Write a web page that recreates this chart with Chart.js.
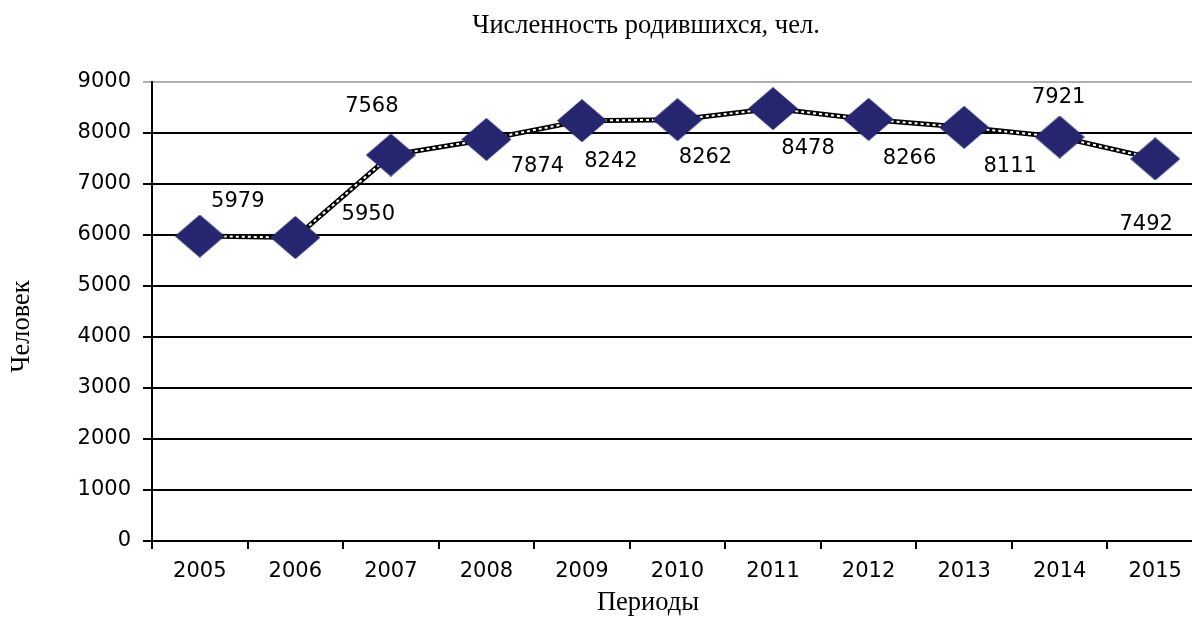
<!DOCTYPE html>
<html>
<head>
<meta charset="utf-8">
<script src="https://cdn.jsdelivr.net/npm/chart.js@4/dist/chart.umd.min.js"></script>
<style>
    html, body { margin: 0; padding: 0; background: #fff; overflow: hidden; }
    canvas { display: block; }
</style>
</head>
<body>
<canvas id="grafico" width="1192" height="619"></canvas>
<script>
// Datos
const periodos = ['2005', '2006', '2007', '2008', '2009', '2010', '2011', '2012', '2013', '2014', '2015'];
const nacidos = [5979, 5950, 7568, 7874, 8242, 8262, 8478, 8266, 8111, 7921, 7492];
const ticksY = [0, 1000, 2000, 3000, 4000, 5000, 6000, 7000, 8000, 9000];

// Textos
const titulo = 'Численность родившихся, чел.';
const tituloX = 'Периоды';
const tituloY = 'Человек';

// Desplazamiento de cada etiqueta respecto al punto (px)
const offsetsEtiquetas = [[38, -35], [73, -23], [-19, -48], [51, 27], [29, 41], [28, 38], [35, 40], [41, 39], [46, 39], [-1, -39], [-9, 66]];

const fuenteSans = '"DejaVu Sans", Verdana, sans-serif';
const fuenteSerif = '"Liberation Serif", "Times New Roman", serif';
const azul = '#262670';

// El área del gráfico sigue más allá del borde derecho (recortada, como en el original)
const extraDerecha = 11;

// Rombo (más ancho que alto)
function crearRombo(w, h) {
    const c = document.createElement('canvas');
    c.width = w; c.height = h;
    const g = c.getContext('2d');
    g.fillStyle = azul;
    g.beginPath();
    g.moveTo(w / 2, 0);
    g.lineTo(w, h / 2);
    g.lineTo(w / 2, h);
    g.lineTo(0, h / 2);
    g.closePath();
    g.fill();
    return c;
}
const rombo = crearRombo(50, 43);

// Plugin: ensanchar el área hacia la derecha
const recortePlugin = {
    id: 'recorte',
    afterLayout(chart) {
        const x = chart.scales.x;
        chart.chartArea.right += extraDerecha;
        chart.chartArea.width += extraDerecha;
        x.right += extraDerecha;
        x.width += extraDerecha;
        x.configure();
    }
};

// Plugin: títulos + etiquetas de valores
const textosPlugin = {
    id: 'textos',
    afterDraw(chart) {
        const ctx = chart.ctx;
        const area = chart.chartArea;
        ctx.save();
        ctx.fillStyle = '#000';
        ctx.textAlign = 'center';
        ctx.textBaseline = 'middle';

        // Títulos
        ctx.font = '26.5px ' + fuenteSerif;
        ctx.fillText(titulo, 646, 26);
        ctx.fillText(tituloX, 648, 603);
        ctx.save();
        ctx.translate(22, (area.top + area.bottom) / 2 + 15);
        ctx.rotate(-Math.PI / 2);
        ctx.fillText(tituloY, 0, 0);
        ctx.restore();

        // Etiquetas de valores
        const meta = chart.getDatasetMeta(0);
        ctx.font = '21px ' + fuenteSans;
        meta.data.forEach((pt, i) => {
            const [dx, dy] = offsetsEtiquetas[i];
            ctx.fillText(String(nacidos[i]), pt.x + dx, pt.y + dy);
        });
        ctx.restore();
    }
};

new Chart(document.getElementById('grafico').getContext('2d'), {
    type: 'line',
    data: {
        labels: periodos,
        datasets: [
            {
                // trazo blanco punteado (encima) + rombos
                data: nacidos,
                borderColor: '#fff',
                borderWidth: 2,
                borderDash: [3, 3],
                pointStyle: rombo,
                pointRadius: 25,
                tension: 0,
                order: 0
            },
            {
                // trazo negro de fondo
                data: nacidos,
                borderColor: '#000',
                borderWidth: 5,
                pointRadius: 0,
                tension: 0,
                order: 1
            }
        ]
    },
    options: {
        responsive: false,
        animation: false,
        layout: { autoPadding: false, padding: { top: 82, right: 0, bottom: 0, left: 0 } },
        plugins: {
            legend: { display: false },
            tooltip: { enabled: false },
            title: { display: false }
        },
        scales: {
            x: {
                offset: true,
                afterFit: s => { s.height = 78; },
                grid: {
                    offset: true,
                    drawOnChartArea: false,
                    drawTicks: true,
                    tickLength: 8,
                    color: '#000',
                    lineWidth: 2
                },
                border: { color: '#000', width: 2 },
                ticks: {
                    color: '#000',
                    font: { family: fuenteSans, size: 21 },
                    padding: 10,
                    maxRotation: 0
                }
            },
            y: {
                min: 0,
                max: 9000,
                afterBuildTicks: s => { s.ticks = ticksY.map(v => ({ value: v })); },
                afterFit: s => { s.width = 152; },
                grid: {
                    color: c => (c.tick && c.tick.value === 9000 ? '#b0b0b0' : '#000'),
                    lineWidth: 2,
                    tickLength: 9
                },
                border: { color: '#000', width: 2 },
                ticks: {
                    color: '#000',
                    font: { family: fuenteSans, size: 21 },
                    padding: 12,
                    callback: v => String(v)
                }
            }
        }
    },
    plugins: [recortePlugin, textosPlugin]
});
</script>
</body>
</html>
